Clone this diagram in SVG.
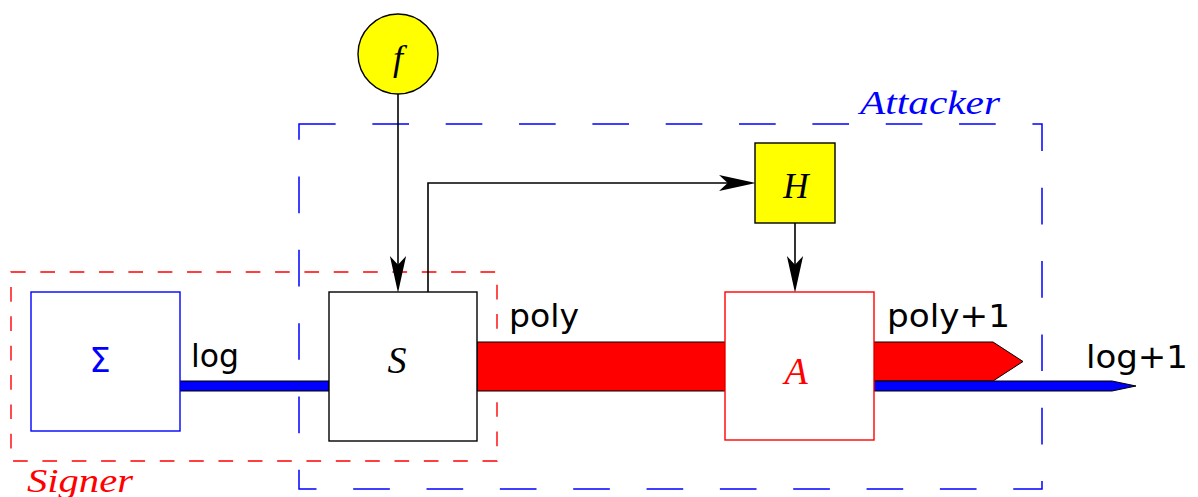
<svg xmlns="http://www.w3.org/2000/svg" width="1198" height="497" viewBox="0 0 1198 497">
<style>
.box{stroke-width:1.4}
.lbl{font-family:"DejaVu Sans",sans-serif;font-size:32px;fill:#000}
.math{font-family:"Liberation Serif",serif;font-style:italic}
.conn{fill:none;stroke:#000;stroke-width:1.6}
.bar{stroke:#000;stroke-width:1}
</style>
<defs>
<marker id="arr" markerUnits="userSpaceOnUse" markerWidth="40" markerHeight="20" viewBox="-25 -9 37 18" refX="0" refY="0" orient="auto" overflow="visible">
<path d="M10,0 L-24,-7.5 L-16,0 L-24,7.5 Z" fill="#000"/>
</marker>
</defs>
<g id="frames">
<path id="attacker-frame" d="M299,124 H1042 V489 H299 Z" fill="none" stroke="#0000ff" stroke-width="1.5" stroke-dasharray="36.67 36.67"/>
<path id="signer-frame" d="M11,272 H497 V461 H11 Z" fill="none" stroke="#ff0000" stroke-width="1.4" stroke-dasharray="14.67 14.67"/>
<text x="860" y="114" class="math" font-size="34" fill="#0000ff" textLength="140" lengthAdjust="spacingAndGlyphs">Attacker</text>
<text x="27" y="492" class="math" font-size="34" fill="#ff0000" textLength="106" lengthAdjust="spacingAndGlyphs">Signer</text>
</g>
<g id="connectors">
<rect class="bar" x="180" y="381" width="149" height="10" fill="#0000ff"/>
<rect class="bar" x="477" y="342" width="248" height="49" fill="#ff0000"/>
<path class="bar" d="M874,342 H993 L1023,361.5 L993,381 H874 Z" fill="#ff0000"/>
<path class="bar" d="M874,381 H1112 L1136,386 L1112,391 H874 Z" fill="#0000ff"/>
<path class="conn" d="M398,94 V282" marker-end="url(#arr)"/>
<path class="conn" d="M428,292 V183 H745" marker-end="url(#arr)"/>
<path class="conn" d="M795,223 V282" marker-end="url(#arr)"/>
<text class="lbl" x="191" y="367" textLength="48" lengthAdjust="spacingAndGlyphs">log</text>
<text class="lbl" x="509" y="327" textLength="70" lengthAdjust="spacingAndGlyphs">poly</text>
<text class="lbl" x="887" y="327" textLength="123" lengthAdjust="spacingAndGlyphs">poly+1</text>
<text class="lbl" x="1086" y="368" textLength="102" lengthAdjust="spacingAndGlyphs">log+1</text>
</g>
<g id="sigma">
<rect class="box" x="31" y="292" width="149" height="139" fill="#fff" stroke="#0000ff" stroke-width="1.5"/>
<text x="100" y="372" text-anchor="middle" font-family="DejaVu Sans,sans-serif" font-size="34" fill="#0000ff">Σ</text>
</g>
<g id="S">
<rect class="box" x="329" y="292" width="148" height="149" fill="#fff" stroke="#000"/>
<text x="397" y="373" text-anchor="middle" class="math" font-size="38" fill="#000">S</text>
</g>
<g id="A">
<rect class="box" x="725" y="292" width="149" height="148" fill="#fff" stroke="#ff0000" stroke-width="1.5"/>
<text x="796" y="384" text-anchor="middle" class="math" font-size="38" fill="#ff0000">A</text>
</g>
<g id="H">
<rect class="box" x="755" y="143" width="80" height="80" fill="#ffff00" stroke="#000"/>
<text x="796" y="198" text-anchor="middle" class="math" font-size="35" fill="#000">H</text>
</g>
<g id="f">
<circle class="box" cx="398" cy="54" r="40" fill="#ffff00" stroke="#000"/>
<text x="398" y="70" text-anchor="middle" class="math" font-size="36" fill="#000">f</text>
</g>
</svg>
